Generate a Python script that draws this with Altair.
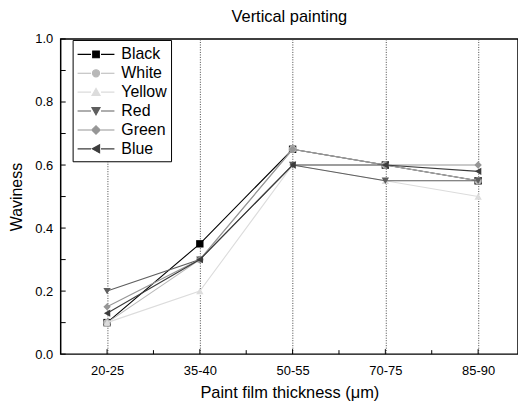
import altair as alt
import pandas as pd

categories = ["20-25", "35-40", "50-55", "70-75", "85-90"]
series_names = ["Black", "White", "Yellow", "Red", "Green", "Blue"]
black = [0.10, 0.35, 0.65, 0.60, 0.55]
white = [0.10, 0.30, 0.65, 0.60, 0.55]
yellow = [0.10, 0.20, 0.60, 0.55, 0.50]
red = [0.20, 0.30, 0.60, 0.55, 0.55]
green = [0.15, 0.30, 0.65, 0.60, 0.60]
blue = [0.13, 0.30, 0.60, 0.60, 0.58]

colors = ["#000000", "#b8b8b8", "#dcdcdc", "#5e5e5e", "#969696", "#3c3c3c"]
shapes = ["square", "circle", "triangle-up", "triangle-down", "diamond", "triangle-left"]
LINE = "M-1,0H0.42M1.48,0H2.9"
legend_shapes = [
    LINE + "M0.6,-0.35H1.3V0.35H0.6Z",
    LINE + "M0.57,0A0.38,0.38,0,1,0,1.33,0A0.38,0.38,0,1,0,0.57,0Z",
    LINE + "M0.52,0.36L0.95,-0.4L1.38,0.36Z",
    LINE + "M0.52,-0.36L0.95,0.4L1.38,-0.36Z",
    LINE + "M0.5,0L0.95,-0.45L1.4,0L0.95,0.45Z",
    LINE + "M1.33,-0.43L0.55,0L1.33,0.43Z",
]
y_ticks = [0.0, 0.1, 0.2, 0.3, 0.4, 0.5, 0.6, 0.7, 0.8, 0.9, 1.0]
x_major = [0, 1, 2, 3, 4]
x_minor = [0.5, 1.5, 2.5, 3.5]

values = [black, white, yellow, red, green, blue]
rows = []
for name, vals in zip(series_names, values):
    for i, v in enumerate(vals):
        rows.append({"series": name, "xi": i, "cat": categories[i], "v": v})
df = pd.DataFrame(rows)

FONT = "Liberation Sans"
label_expr = "[" + ",".join(f"'{c}'" for c in categories) + "][round(datum.value)]"

xscale = alt.Scale(domain=[-0.5, 4.43], nice=False, zero=False)
yscale = alt.Scale(domain=[0, 1], nice=False)

base = alt.Chart(df)

x_enc = alt.X("xi:Q", scale=xscale,
              axis=alt.Axis(values=x_major, labelExpr=label_expr, title="Paint film thickness (μm)",
                            grid=True, gridDash=[1, 1.5], gridColor="#444444", gridWidth=1,
                            tickSize=0, domain=False, labelPadding=10, labelFontSize=13,
                            titleFontSize=16.5, titleFontWeight="normal", titlePadding=8,
                            labelFont=FONT, titleFont=FONT, labelColor="black", titleColor="black"))
y_enc = alt.Y("v:Q", scale=yscale,
              axis=alt.Axis(values=[0, 0.2, 0.4, 0.6, 0.8, 1.0], format=".1f", title="Waviness",
                            grid=False, tickSize=0, domain=False, labelPadding=8, labelFontSize=13,
                            titleFontSize=16, titleFontWeight="normal", titlePadding=10,
                            labelFont=FONT, titleFont=FONT, labelColor="black", titleColor="black"))

series_layers = []
for k, (name, col, shp) in enumerate(zip(series_names, colors, shapes)):
    sub = base.transform_filter(alt.datum.series == name)
    if k == 0:
        ln = sub.mark_line(strokeWidth=1.1, color=col).encode(x=x_enc, y=y_enc)
    else:
        ln = sub.mark_line(strokeWidth=1.1, color=col).encode(x="xi:Q", y="v:Q")
    pt = sub.mark_point(filled=True, size=55, opacity=1, color=col, shape=shp).encode(
        x="xi:Q", y="v:Q")
    series_layers += [ln, pt]

leg = alt.Legend(title=None, orient="none", legendX=12, legendY=1, strokeColor="black",
                 fillColor="white", padding=4, labelFont=FONT, labelFontSize=16, labelColor="black",
                 symbolSize=361, symbolStrokeWidth=1.1, labelOffset=24, rowPadding=0,
                 symbolOpacity=1)
legend_layer = base.mark_point(filled=True, opacity=1).encode(
    x="xi:Q", y="v:Q",
    fill=alt.Fill("series:N", scale=alt.Scale(domain=series_names, range=colors), legend=leg),
    stroke=alt.Stroke("series:N", scale=alt.Scale(domain=series_names, range=colors), legend=leg),
    shape=alt.Shape("series:N", scale=alt.Scale(domain=series_names, range=legend_shapes), legend=leg),
).transform_filter("datum.v < -1")

tick_df_y = pd.DataFrame({"t": y_ticks})
tick_df_xM = pd.DataFrame({"t": x_major})
tick_df_xm = pd.DataFrame({"t": x_minor})

yt = alt.Chart(tick_df_y).mark_rule(color="black", strokeWidth=1).encode(
    y=alt.Y("t:Q", scale=yscale), x=alt.value(0), x2=alt.value(5))
xtM = alt.Chart(tick_df_xM).mark_rule(color="black", strokeWidth=1).encode(
    x=alt.X("t:Q", scale=xscale), y=alt.value(317), y2=alt.value(312))
xtm = alt.Chart(tick_df_xm).mark_rule(color="black", strokeWidth=1).encode(
    x=alt.X("t:Q", scale=xscale), y=alt.value(317), y2=alt.value(313))

chart = alt.layer(*series_layers, yt, xtM, xtm, legend_layer).properties(
    width=460, height=317,
    title=alt.Title("Vertical painting", fontSize=16.5, font=FONT, fontWeight="normal",
                    color="black", offset=8, anchor="middle"),
    autosize=alt.AutoSizeParams(type="none"),
    padding={"left": 53, "top": 30, "right": 0, "bottom": 48},
).configure_view(stroke="black", strokeWidth=1.5)

chart.save("out.html", embed_options={"renderer": "svg", "actions": False})
